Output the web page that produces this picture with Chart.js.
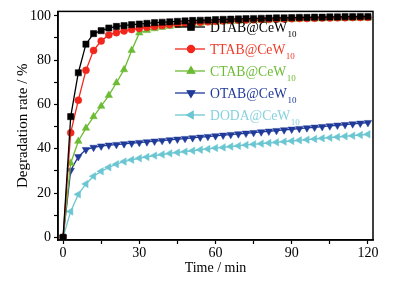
<!DOCTYPE html>
<html>
<head>
<meta charset="utf-8">
<script src="https://cdn.jsdelivr.net/npm/chart.js@4.4.0/dist/chart.umd.min.js"></script>
<style>
  html, body { margin: 0; padding: 0; background: #fff; }
  #wrap { width: 403px; height: 288px; }
</style>
</head>
<body>
<div id="wrap"><canvas id="c" width="403" height="288"></canvas></div>
<script>
// time in minutes, every 3 min
const times = [0,3,6,9,12,15,18,21,24,27,30,33,36,39,42,45,48,51,54,57,60,63,66,69,72,75,78,81,84,87,90,93,96,99,102,105,108,111,114,117,120];

const dtab = [0,54.5,74.3,87.2,92,93.3,94.5,95.2,95.6,96,96.3,96.6,96.9,97.1,97.3,97.5,97.7,97.9,98,98.1,98.3,98.4,98.5,98.6,98.7,98.8,98.9,99,99.1,99.1,99.2,99.3,99.3,99.4,99.4,99.5,99.5,99.6,99.6,99.7,99.7];
const ttab = [0,47.2,61.9,75.4,84.4,88.6,91.4,92.4,93.2,93.8,94.3,94.8,95.2,95.6,96,96.3,96.6,96.9,97.1,97.3,97.5,97.7,97.9,98,98.1,98.2,98.3,98.4,98.5,98.6,98.7,98.8,98.8,98.9,99,99,99.1,99.1,99.2,99.2,99.3];
const ctab = [0,33.5,43.4,49.3,54.5,59.2,64.1,69.8,75.7,84.4,92.3,93.4,94.2,94.8,95.3,95.7,96.1,96.4,96.7,96.9,97.1,97.3,97.5,97.6,97.8,97.9,98,98.1,98.2,98.3,98.4,98.5,98.6,98.6,98.7,98.8,98.8,98.9,98.9,99,99];
const otab = [0,30.2,36.4,39.6,40.6,41.2,41.6,41.9,42.2,42.5,42.8,43.1,43.4,43.7,44,44.3,44.6,44.9,45.2,45.5,45.8,46.1,46.4,46.7,47,47.3,47.6,47.9,48.2,48.5,48.8,49.1,49.4,49.7,50,50.3,50.6,50.9,51.2,51.5,51.8];
const doda = [0,11.7,19.4,24.1,27.6,29.8,31.6,33,34.2,35,35.7,36.3,36.9,37.4,37.9,38.3,38.7,39.1,39.5,39.9,40.3,40.6,41,41.3,41.7,42,42.3,42.6,42.9,43.2,43.5,43.8,44.1,44.4,44.7,45,45.3,45.6,45.9,46.2,46.5];

const names = ['DTAB@CeW', 'TTAB@CeW', 'CTAB@CeW', 'OTAB@CeW', 'DODA@CeW'];
const xTicks = [0,15,30,45,60,75,90,105,120];
const yTicks = [0,10,20,30,40,50,60,70,80,90,100];

const serif = "'Liberation Serif', 'Times New Roman', serif";

function pts(vals) {
  return times.map((t, i) => ({ x: t, y: vals[i] }));
}

const series = [
  { label: names[0], data: pts(dtab), color: '#000000', text: '#000000', style: 'rect', radius: 4.4, rot: 0 },
  { label: names[1], data: pts(ttab), color: '#f2261a', text: '#ee3b28', style: 'circle', radius: 3.5, rot: 0 },
  { label: names[2], data: pts(ctab), color: '#6cbb34', text: '#6cbb34', style: 'triangle', radius: 4.3, rot: 0 },
  { label: names[3], data: pts(otab), color: '#1f3a99', text: '#1f3a99', style: 'triangle', radius: 4.3, rot: 180 },
  { label: names[4], data: pts(doda), color: '#6cc6d2', text: '#86d2dc', style: 'triangle', radius: 4.3, rot: 270 }
];

// frame around the plot area + in-plot legend with subscripts
const framePlugin = {
  id: 'frame',
  afterDatasetsDraw(chart) {
    const { ctx, chartArea: a } = chart;
    ctx.save();
    ctx.strokeStyle = '#000';
    ctx.lineWidth = 1.5;
    ctx.strokeRect(a.left, a.top, a.right - a.left, a.bottom - a.top);
    ctx.restore();
  },
  afterDraw(chart) {
    const ctx = chart.ctx;
    ctx.save();
    series.forEach((s, i) => {
      const y = 27 + i * 22;
      ctx.strokeStyle = s.color;
      ctx.lineWidth = 1.3;
      ctx.beginPath();
      ctx.moveTo(175, y);
      ctx.lineTo(205, y);
      ctx.stroke();
      ctx.fillStyle = s.color;
      Chart.helpers.drawPoint(ctx, {
        pointStyle: s.style, radius: s.radius, rotation: s.rot, borderWidth: 1
      }, 191, y);
      ctx.fill();
      ctx.fillStyle = s.text;
      ctx.textBaseline = 'alphabetic';
      ctx.font = '13.7px ' + serif;
      ctx.fillText(s.label, 210, y + 5);
      const w = ctx.measureText(s.label).width;
      ctx.font = '9px ' + serif;
      ctx.fillText('10', 210 + w + 0.5, y + 10);
    });
    ctx.restore();
  }
};

new Chart(document.getElementById('c'), {
  type: 'line',
  data: {
    datasets: series.map(s => ({
      label: s.label,
      data: s.data,
      borderColor: s.color,
      backgroundColor: s.color,
      borderWidth: 1.3,
      pointStyle: s.style,
      pointRadius: s.radius,
      pointRotation: s.rot,
      pointBorderWidth: 0.5,
      pointBorderColor: s.color,
      tension: 0
    }))
  },
  options: {
    responsive: false,
    animation: false,
    layout: { padding: { top: 7, right: 30, left: 0, bottom: 0 } },
    plugins: {
      legend: { display: false },
      tooltip: { enabled: false }
    },
    scales: {
      x: {
        type: 'linear',
        min: -2,
        max: 122,
        afterBuildTicks: sc => { sc.ticks = xTicks.map(v => ({ value: v })); },
        afterFit: sc => { sc.height = 48; },
        border: { display: true, color: '#000', width: 1.5 },
        grid: { drawOnChartArea: false, drawTicks: true, tickLength: 4, tickColor: '#000', tickWidth: 1.2 },
        ticks: {
          color: '#000',
          padding: 1,
          maxRotation: 0,
          autoSkip: false,
          font: { family: serif, size: 14 },
          callback: v => (v % 30 === 0 ? String(v) : '')
        },
        title: {
          display: true,
          text: 'Time / min',
          color: '#000',
          font: { family: serif, size: 14 },
          padding: { top: 0, bottom: 11 }
        }
      },
      y: {
        min: -1.2,
        max: 102,
        afterBuildTicks: sc => { sc.ticks = yTicks.map(v => ({ value: v })); },
        afterFit: sc => { sc.width = 58; },
        border: { display: true, color: '#000', width: 1.5 },
        grid: { drawOnChartArea: false, drawTicks: true, tickLength: 4, tickColor: '#000', tickWidth: 1.2 },
        ticks: {
          color: '#000',
          padding: 3,
          autoSkip: false,
          font: { family: serif, size: 14 },
          callback: v => (v % 20 === 0 ? String(v) : '')
        },
        title: {
          display: true,
          text: 'Degradation rate / %',
          color: '#000',
          font: { family: serif, size: 15 },
          padding: { top: 14, bottom: 0 }
        }
      }
    }
  },
  plugins: [framePlugin]
});
</script>
</body>
</html>
